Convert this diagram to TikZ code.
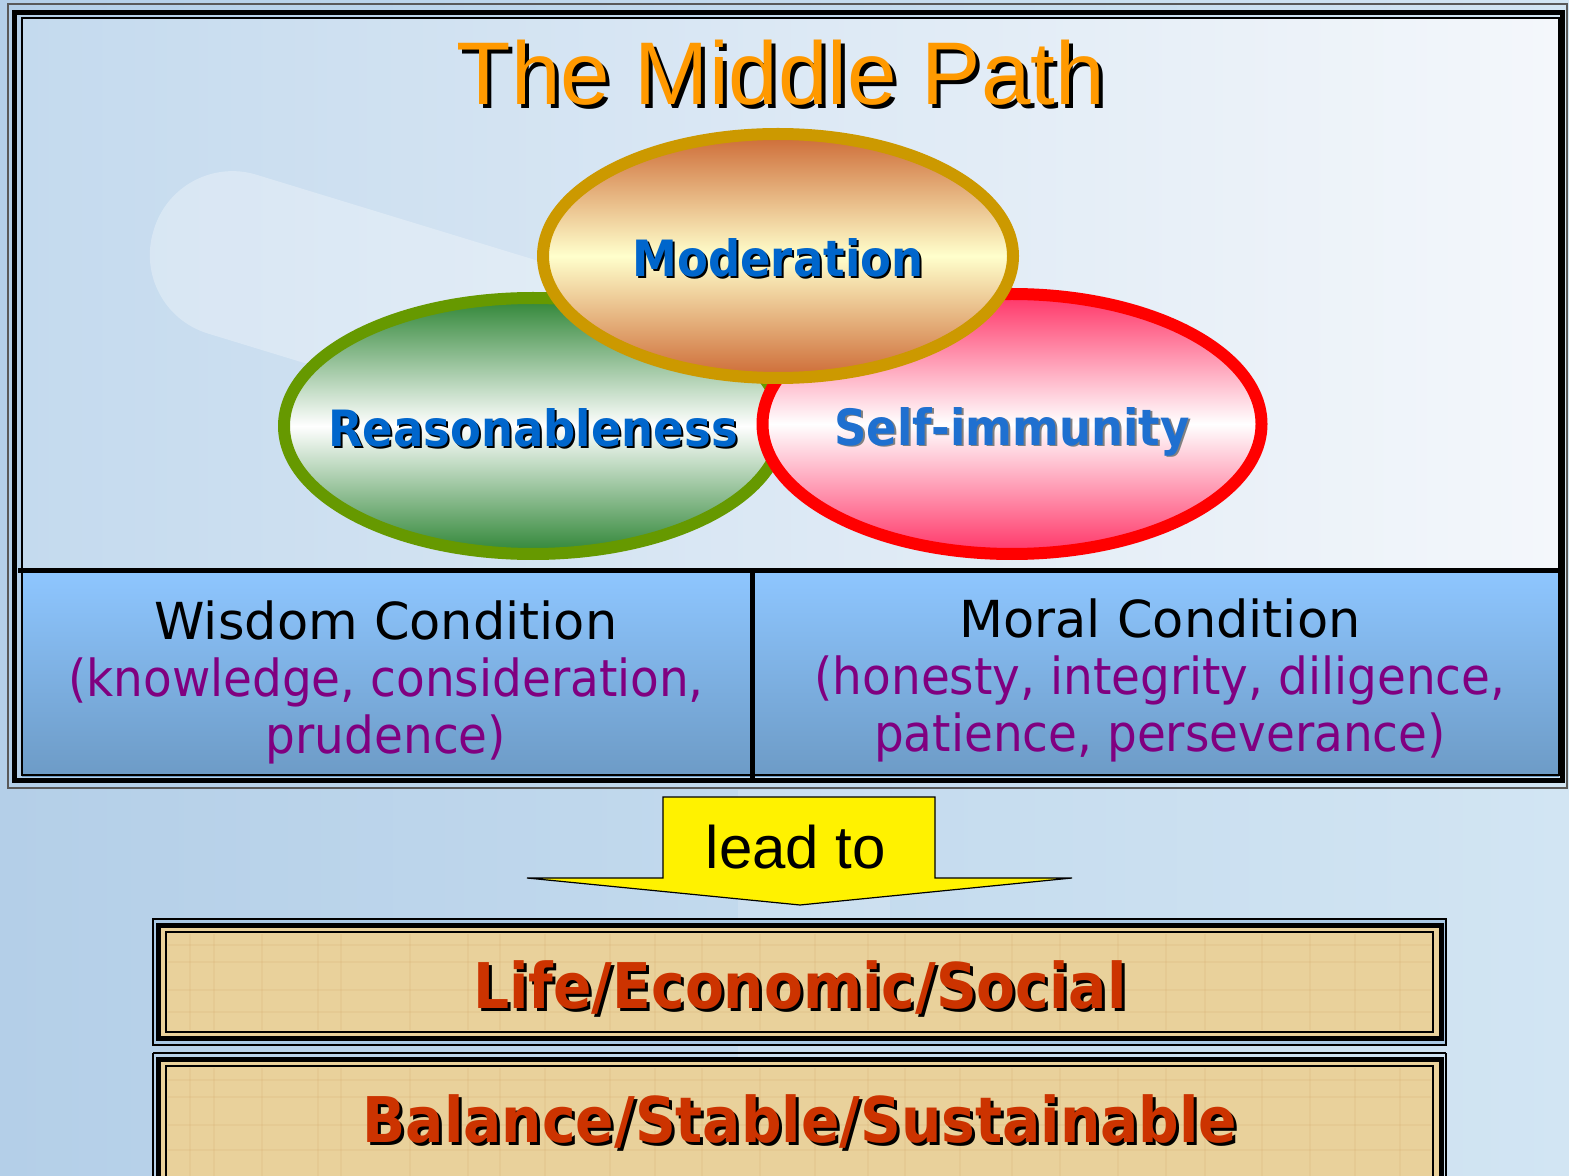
\documentclass[tikz,border=0pt]{standalone}
\usepackage{fontspec}
\setmainfont{DejaVu Sans}
\newfontfamily\arialfont{Liberation Sans}
\newfontfamily\tahomafont{DejaVu Sans}[FakeStretch=0.9]
\newfontfamily\narrowfont{DejaVu Sans}[FakeStretch=0.92]
\usetikzlibrary{shapes.geometric}
\definecolor{titleorange}{HTML}{FF9900}
\definecolor{labelblue}{HTML}{0066CC}
\definecolor{immblue}{HTML}{1F70D0}
\definecolor{condpurple}{HTML}{800080}
\definecolor{resultred}{HTML}{CC3300}
\definecolor{modborder}{HTML}{CC9900}
\definecolor{modouter}{HTML}{CD6A35}
\definecolor{modinner}{HTML}{FFFFCC}
\definecolor{reasborder}{HTML}{669900}
\definecolor{reasouter}{HTML}{2E8535}
\definecolor{immborder}{HTML}{FF0000}
\definecolor{immouter}{HTML}{FF3366}
\definecolor{bandtop}{HTML}{8EC6FF}
\definecolor{bandbottom}{HTML}{6D9BC6}
\definecolor{paper}{HTML}{E9D19B}
\definecolor{gapblue}{HTML}{A9C8E4}
\definecolor{bgleft}{HTML}{B4CFE8}
\definecolor{bgright}{HTML}{D2E5F3}
\definecolor{frameleft}{HTML}{C4DAEE}
\definecolor{frameright}{HTML}{F4F7FB}
\newcommand{\shadowtext}[3]{\rlap{\kern#3\raisebox{-#3}{\color{black}#2}}{\color{#1}#2}}
\begin{document}
\begin{tikzpicture}[x=0.5pt,y=-0.5pt,
  ring/.style={ellipse, line width=6pt, inner sep=0pt},
  ringlabel/.style={font=\tahomafont\bfseries\fontsize{25}{30}\selectfont, text height=21pt, text depth=0pt},
  condtext/.style={align=center, font=\fontsize{25.5}{28.5}\selectfont},
  resulttext/.style={anchor=base, font=\tahomafont\bfseries\fontsize{31.5}{36}\selectfont},
  paperline/.style={draw=brown, opacity=.08, line width=1.2pt}]
\useasboundingbox (0,0) rectangle (1569,1176);
\clip (0,0) rectangle (1569,1176);
\fill[left color=bgleft, right color=bgright] (0,0) rectangle (1569,1176);
\fill[white, opacity=.15] (738,790) rectangle (890,1176);
\fill[left color=frameleft, right color=frameright] (22,18) rectangle (1559,570);
\fill[white, opacity=.3, rotate around={-17:(235,255)}, rounded corners=41pt] (150,172) rectangle (640,338);
\node[ring, draw=reasborder, top color=reasouter, bottom color=reasouter, middle color=white, minimum width=249pt, minimum height=128pt, ringlabel] (reason) at (533,426) {\makebox[0pt]{\shadowtext{labelblue}{Reasonableness}{1pt}}};
\node[ring, draw=immborder, top color=immouter, bottom color=immouter, middle color=white, minimum width=249.5pt, minimum height=130pt, ringlabel] (immunity) at (1012,424) {\makebox[0pt]{\rlap{\kern1pt\raisebox{-1pt}{\color{gray}Self-immunity}}{\color{immblue}Self-immunity}}};
\node[ring, draw=modborder, top color=modouter, bottom color=modouter, middle color=modinner, minimum width=235pt, minimum height=122pt, ringlabel] (moderation) at (778,256) {\makebox[0pt]{\shadowtext{labelblue}{Moderation}{1pt}}};
\node[anchor=base, font=\arialfont\fontsize{44.5}{50}\selectfont] (title) at (781,105) {\shadowtext{titleorange}{The Middle Path}{2pt}};
\fill[top color=bandtop, bottom color=bandbottom] (22,572) rectangle (1559,776);
\draw[line width=0.9pt, black!65] (8,4) rectangle (1567,788);
\draw[line width=2.5pt] (14.5,12.5) rectangle (1562.5,780);
\draw[line width=1pt] (21.5,18) rectangle (1559,775);
\draw[line width=2.5pt] (18,570.5) -- (1562,570.5);
\draw[line width=2.5pt] (752.5,570) -- (752.5,778);
\node[condtext] (wisdom) at (386,682) {Wisdom Condition\\\narrowfont\color{condpurple}(knowledge, consideration,\\\narrowfont\color{condpurple}prudence)};
\node[condtext] (moral) at (1160,680) {Moral Condition\\\narrowfont\color{condpurple}(honesty, integrity, diligence,\\\narrowfont\color{condpurple}patience, perseverance)};
\coordinate (tip) at (800,905);
\draw[fill=yellow, line width=0.6pt] (663,797) -- (935,797) -- (935,878) -- (1072,878) -- (tip) -- (527,878) -- (663,878) -- cycle;
\node[anchor=base, font=\arialfont\fontsize{30}{34}\selectfont] (leadto) at (796,868) {lead to};
\draw[line width=0.9pt, fill=gapblue] (153,919) rectangle (1446,1045);
\draw[line width=2.5pt, fill=paper] (158,925.5) rectangle (1441,1038.5);
\draw[line width=2.5pt, fill=paper] (158,1059.5) rectangle (1441,1200);
\foreach \xx in {190,214,262,318,341,410,468,500,545,610,655,702,760,815,868,905,960,1012,1060,1118,1166,1205,1262,1310,1355,1400}{
  \draw[paperline] (\xx,934) -- (\xx,1030);
  \draw[paperline] (\xx,1068) -- (\xx,1176);
}
\foreach \yy in {945,962,990,1012,1080,1097,1125,1150}{
  \draw[paperline] (168,\yy) -- (1431,\yy);
}
\draw[line width=0.8pt] (166,932) rectangle (1433,1032);
\draw[line width=0.9pt] (153,1053) -- (1446,1053);
\draw[line width=0.9pt] (153,1053) -- (153,1176);
\draw[line width=0.9pt] (1446,1053) -- (1446,1176);
\draw[line width=0.8pt] (166,1066) rectangle (1433,1190);
\node[resulttext] (life) at (800,1008) {\shadowtext{resultred}{Life/Economic/Social}{1.5pt}};
\node[resulttext] (balance) at (800,1142) {\shadowtext{resultred}{Balance/Stable/Sustainable}{1.5pt}};
\end{tikzpicture}
\end{document}
